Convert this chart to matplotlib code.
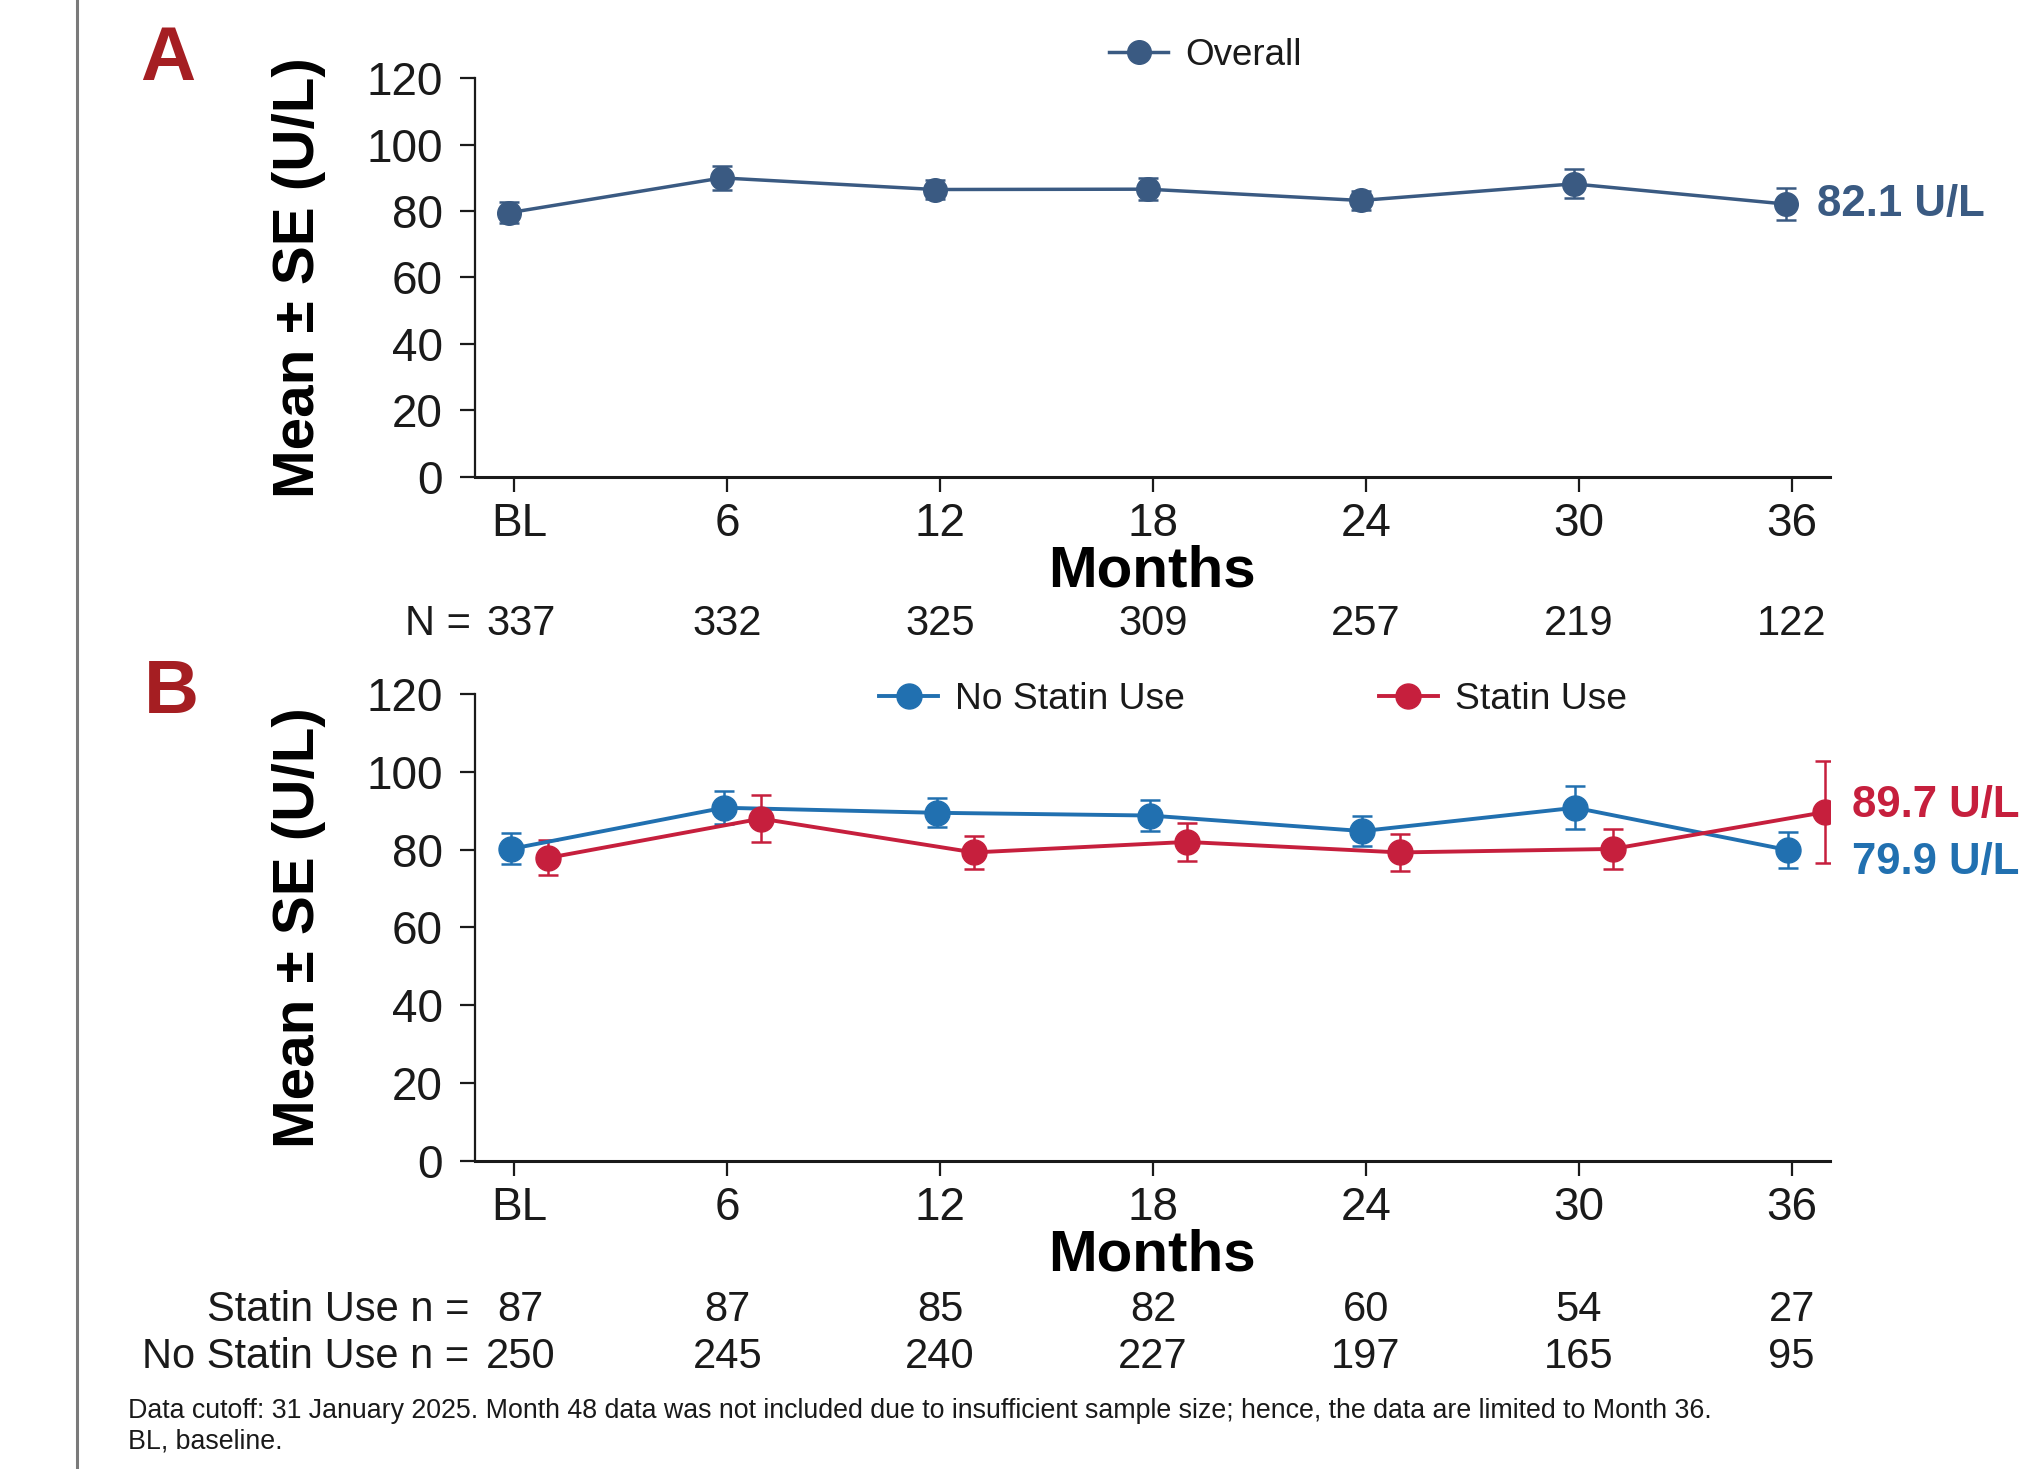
import matplotlib
matplotlib.use("Agg")
import matplotlib.pyplot as plt
from matplotlib.lines import Line2D
from matplotlib.transforms import blended_transform_factory, ScaledTranslation

plt.rcParams['font.family'] = ['Liberation Sans', 'DejaVu Sans']
plt.rcParams['text.color'] = '#1a1a1a'
plt.rcParams['axes.edgecolor'] = '#1a1a1a'

# data
months = [0, 6, 12, 18, 24, 30, 36]
tick_labels = ['BL', '6', '12', '18', '24', '30', '36']

overall_mean = [79.5, 90.0, 86.5, 86.6, 83.2, 88.2, 82.1]
overall_se = [3.2, 3.6, 3.0, 3.4, 3.0, 4.4, 4.8]
overall_n = [337, 332, 325, 309, 257, 219, 122]

nostatin_mean = [80.2, 90.8, 89.5, 88.8, 84.8, 90.8, 79.9]
nostatin_se = [4.0, 4.2, 3.7, 4.0, 3.8, 5.5, 4.7]
nostatin_n = [250, 245, 240, 227, 197, 165, 95]

statin_mean = [77.9, 88.0, 79.3, 82.0, 79.3, 80.2, 89.7]
statin_se = [4.5, 6.0, 4.2, 5.0, 4.7, 5.2, 13.2]
statin_n = [87, 87, 85, 82, 60, 54, 27]

c_overall = '#3a5a82'
c_nostatin = '#2170b0'
c_statin = '#c61f3d'
c_letter = '#a51e22'

fig = plt.figure(figsize=(20.24, 14.69), dpi=100)
axA = fig.add_axes([0.2345, 0.6755, 0.6695, 0.2712])
axB = fig.add_axes([0.2345, 0.2099, 0.6695, 0.3175])


def style_axes(ax, xlabel_y):
    ax.set_xlim(-1.12, 37.07)
    ax.set_ylim(0, 120)
    ax.set_yticks(range(0, 121, 20))
    ax.set_xticks(months)
    ax.set_xticklabels(tick_labels)
    for s in ['top', 'right']:
        ax.spines[s].set_visible(False)
    ax.spines['left'].set_linewidth(1.6)
    ax.spines['bottom'].set_linewidth(2.2)
    ax.tick_params(axis='both', labelsize=33, width=1.6, length=11,
                   colors='#1a1a1a')
    ax.tick_params(axis='y', pad=12)
    ax.tick_params(axis='x', pad=7)
    ax.set_ylabel('Mean ± SE (U/L)', fontsize=42, fontweight='bold')
    ax.yaxis.set_label_coords(-0.110, 0.5)
    ax.set_xlabel('Months', fontsize=42, fontweight='bold')
    ax.xaxis.set_label_coords(0.5, xlabel_y)
    # the BL label sits a little right of its tick in the original
    bl = ax.get_xticklabels()[0]
    bl.set_transform(bl.get_transform() + ScaledTranslation(0.05, 0, fig.dpi_scale_trans))


def draw_series(ax, x, mean, se, color, label, lw, ms):
    ax.errorbar(x, mean, yerr=se, fmt='none', ecolor=color, elinewidth=1.8,
                capsize=7, capthick=1.8, zorder=3)
    line, = ax.plot(x, mean, '-o', color=color, lw=lw, ms=ms, zorder=4,
                    label=label)
    return line


# panel A
style_axes(axA, -0.169)
xA = [m - 0.15 for m in months]
hA = draw_series(axA, xA, overall_mean, overall_se, c_overall, 'Overall', 2.5, 17)
axA.text(xA[-1] + 0.85, overall_mean[-1], '{:.1f} U/L'.format(overall_mean[-1]),
         color=c_overall, fontsize=31.5, fontweight='bold', va='center',
         ha='left', clip_on=False)
fig.legend(handles=[hA], loc='center', bbox_to_anchor=(0.5955, 0.9625),
           frameon=False, fontsize=26.5, handlelength=1.6, handletextpad=0.45)

# panel B
style_axes(axB, -0.146)
xB1 = [m - 0.1 for m in months]
xB2 = [m + 0.95 for m in months]
hB1 = draw_series(axB, xB1, nostatin_mean, nostatin_se, c_nostatin, 'No Statin Use', 2.8, 18)
hB2 = draw_series(axB, xB2, statin_mean, statin_se, c_statin, 'Statin Use', 2.8, 18)
axB.text(xB2[-1] + 0.75, 91.5, '{:.1f} U/L'.format(statin_mean[-1]),
         color=c_statin, fontsize=31.5, fontweight='bold', va='center',
         ha='left', clip_on=False)
axB.text(xB2[-1] + 0.75, 76.8, '{:.1f} U/L'.format(nostatin_mean[-1]),
         color=c_nostatin, fontsize=31.5, fontweight='bold', va='center',
         ha='left', clip_on=False)
fig.legend(handles=[hB1, hB2], loc='center', bbox_to_anchor=(0.619, 0.5235),
           ncol=2, frameon=False, fontsize=26.8, handlelength=1.6,
           handletextpad=0.45, columnspacing=5.2)

# number at risk rows
trA = blended_transform_factory(axA.transData, fig.transFigure)
trB = blended_transform_factory(axB.transData, fig.transFigure)
n_x = [m + 0.18 if m == 0 else m for m in months]
axA.text(-1.22, 0.5750, 'N =', transform=trA, fontsize=30, ha='right', va='center')
for m, n in zip(n_x, overall_n):
    axA.text(m, 0.5750, str(n), transform=trA, fontsize=30, ha='center', va='center')

axB.text(-1.28, 0.1082, 'Statin Use n =', transform=trB, fontsize=30, ha='right', va='center')
axB.text(-1.28, 0.0760, 'No Statin Use n =', transform=trB, fontsize=30, ha='right', va='center')
for m, n1, n2 in zip(n_x, statin_n, nostatin_n):
    axB.text(m, 0.1082, str(n1), transform=trB, fontsize=30, ha='center', va='center')
    axB.text(m, 0.0760, str(n2), transform=trB, fontsize=30, ha='center', va='center')

# panel letters
fig.text(0.083, 0.9587, 'A', color=c_letter, fontsize=55, fontweight='bold',
         ha='center', va='center')
fig.text(0.0845, 0.528, 'B', color=c_letter, fontsize=55, fontweight='bold',
         ha='center', va='center')

# footnote
fig.text(0.0632, 0.0395, 'Data cutoff: 31 January 2025. Month 48 data was not included due to '
         'insufficient sample size; hence, the data are limited to Month 36.',
         fontsize=19.3, ha='left', va='center')
fig.text(0.0632, 0.0185, 'BL, baseline.', fontsize=19.3, ha='left', va='center')

# gray rule on the left edge
fig.add_artist(Line2D([0.038, 0.038], [0, 1], transform=fig.transFigure,
                      color='#7a7a7a', lw=2.2))

fig.savefig('out.png', dpi=100)
